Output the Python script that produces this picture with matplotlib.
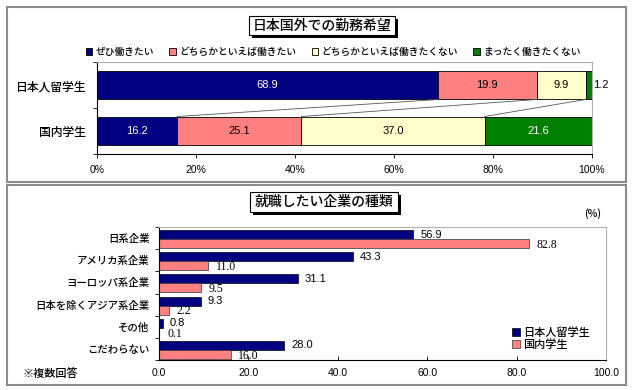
import matplotlib
matplotlib.use('Agg')
import matplotlib.pyplot as plt
from matplotlib.patches import Rectangle
import numpy as np

plt.rcParams['font.family'] = ['Noto Sans CJK JP', 'DejaVu Sans']
plt.rcParams['font.weight'] = 'medium'

# 日本国外での勤務希望 (%)
groups = ['日本人留学生', '国内学生']
answers = ['ぜひ働きたい', 'どちらかといえば働きたい',
           'どちらかといえば働きたくない', 'まったく働きたくない']
ryugakusei = [68.9, 19.9, 9.9, 1.2]
kokunai = [16.2, 25.1, 37.0, 21.6]
answer_colors = ['#000080', '#FF8080', '#FFFFCC', '#008000']
label_colors = ['white', 'black', 'black', 'white']
pct_ticks = [0, 20, 40, 60, 80, 100]

# 就職したい企業の種類 (%, 複数回答)
companies = ['日系企業', 'アメリカ系企業', 'ヨーロッパ系企業',
             '日本を除くアジア系企業', 'その他', 'こだわらない']
comp_ryugakusei = [56.9, 43.3, 31.1, 9.3, 0.8, 28.0]
comp_kokunai = [82.8, 11.0, 9.5, 2.2, 0.1, 16.0]
comp_ticks = [0, 20, 40, 60, 80, 100]

W, H = 635, 390
fig = plt.figure(figsize=(W / 100, H / 100), dpi=100)


def fx(px):
    return px / W


def fy(py):
    return 1 - py / H


def frame(x0, y0, x1, y1):
    fig.add_artist(Rectangle((fx(x0), fy(y1)), (x1 - x0) / W, (y1 - y0) / H,
                             transform=fig.transFigure, fill=False,
                             edgecolor='#8c8c8c', linewidth=1.5))


def title_box(x0, y0, x1, y1, text):
    w, h = (x1 - x0) / W, (y1 - y0) / H
    fig.add_artist(Rectangle((fx(x0 + 3), fy(y1 + 3)), w, h, transform=fig.transFigure,
                             facecolor='black', edgecolor='none'))
    fig.add_artist(Rectangle((fx(x0), fy(y1)), w, h, transform=fig.transFigure,
                             facecolor='white', edgecolor='black', linewidth=0.8))
    fig.text(fx((x0 + x1) / 2), fy((y0 + y1) / 2), text, ha='center', va='center',
             fontsize=10)


frame(7, 7, 626, 182)
frame(7, 185, 626, 385)
title_box(249, 16, 395, 35, '日本国外での勤務希望')
title_box(250, 192, 398, 212, '就職したい企業の種類')

# ---- top: stacked 100% bars
ax1 = fig.add_axes([fx(97), fy(154), (592 - 97) / W, (154 - 62) / H])
shares = np.array([ryugakusei, kokunai])
ypos = np.arange(len(groups))
bar_h = 0.63
left = np.zeros(len(groups))
for j in range(len(answers)):
    ax1.barh(ypos, shares[:, j], left=left, height=bar_h, color=answer_colors[j],
             edgecolor='black', linewidth=0.6, label=answers[j])
    for i in range(len(groups)):
        v = shares[i, j]
        if v < 3:
            ax1.annotate(f'{v:.1f}', (left[i] + v, ypos[i]), xytext=(1, 0),
                         textcoords='offset points', ha='left', va='center',
                         fontsize=8, family='Liberation Sans', annotation_clip=False)
        else:
            ax1.text(left[i] + v / 2, ypos[i], f'{v:.1f}', ha='center', va='center',
                     fontsize=8, family='Liberation Sans', color=label_colors[j])
    left += shares[:, j]

# series lines between the two bars
cum1 = np.cumsum(ryugakusei)[:-1]
cum2 = np.cumsum(kokunai)[:-1]
for a, b in zip(cum1, cum2):
    ax1.plot([a, b], [ypos[0] + bar_h / 2, ypos[1] - bar_h / 2], color='#555555',
             linewidth=0.6)

ax1.set_xlim(0, 100)
ax1.set_ylim(1.5, -0.5)
ax1.set_xticks(pct_ticks)
ax1.set_xticklabels([f'{t}%' for t in pct_ticks], family='Liberation Sans', fontsize=7.5)
ax1.set_yticks(ypos)
ax1.set_yticklabels(groups, fontsize=8.5)
ax1.set_yticks([-0.5, 0.5, 1.5], minor=True)
ax1.tick_params(axis='y', which='major', length=0, pad=8)
ax1.tick_params(axis='y', which='minor', length=3, width=0.6)
ax1.tick_params(axis='x', length=3, width=0.6, pad=5)
for s in ['top', 'right']:
    ax1.spines[s].set_color('#b0b0b0')
for s in ['left', 'bottom']:
    ax1.spines[s].set_linewidth(0.8)
ax1.legend(ncol=4, loc='center', bbox_to_anchor=(0.477, 1.11), frameon=False,
           fontsize=7, handlelength=0.7, handleheight=0.7, handletextpad=0.3,
           columnspacing=1.6, borderpad=0, borderaxespad=0)

# ---- bottom: grouped horizontal bars
ax2 = fig.add_axes([fx(159), fy(360), (606 - 159) / W, (360 - 227) / H])
yc = np.arange(len(companies))
b1 = ax2.barh(yc - 0.16, comp_ryugakusei, height=0.405, color='#000080',
              edgecolor='black', linewidth=0.5)
b2 = ax2.barh(yc + 0.245, comp_kokunai, height=0.405, color='#FF8080',
              edgecolor='#333333', linewidth=0.5)
for y, v in zip(yc, comp_ryugakusei):
    ax2.annotate(f'{v:.1f}', (v, y - 0.16), xytext=(5, 0), textcoords='offset points',
                 ha='left', va='center', fontsize=8, family='Liberation Sans')
for y, v in zip(yc, comp_kokunai):
    ax2.annotate(f'{v:.1f}', (v, y + 0.245), xytext=(5.5, -1), textcoords='offset points',
                 ha='left', va='center', fontsize=8.5, family='Liberation Serif')

ax2.set_xlim(0, 100)
ax2.set_ylim(len(companies) - 0.5, -0.5)
ax2.set_xticks(comp_ticks)
ax2.set_xticklabels([f'{t:.1f}' for t in comp_ticks], family='Liberation Sans',
                    fontsize=7.5)
ax2.set_yticks(yc)
ax2.set_yticklabels(companies, fontsize=7.5)
ax2.set_yticks(np.arange(len(companies) + 1) - 0.5, minor=True)
ax2.tick_params(axis='y', which='major', length=0, pad=7)
ax2.tick_params(axis='y', which='minor', length=3, width=0.6)
ax2.tick_params(axis='x', direction='in', length=3, width=0.6, pad=6)
for s in ['top', 'right']:
    ax2.spines[s].set_color('#b0b0b0')
for s in ['left', 'bottom']:
    ax2.spines[s].set_linewidth(0.8)
ax2.legend([b1, b2], groups, loc='center left',
           bbox_to_anchor=((512 - 159) / 447, (360 - 338.5) / 133), frameon=False,
           fontsize=8, handlelength=0.7, handleheight=0.7, handletextpad=0.3,
           labelspacing=0.15, borderpad=0, borderaxespad=0)

fig.text(fx(593), fy(214), '(%)', ha='center', va='center', fontsize=7.5)
fig.text(fx(22), fy(373), '※複数回答', ha='left', va='center', fontsize=8)

fig.savefig('out.png', dpi=100)
